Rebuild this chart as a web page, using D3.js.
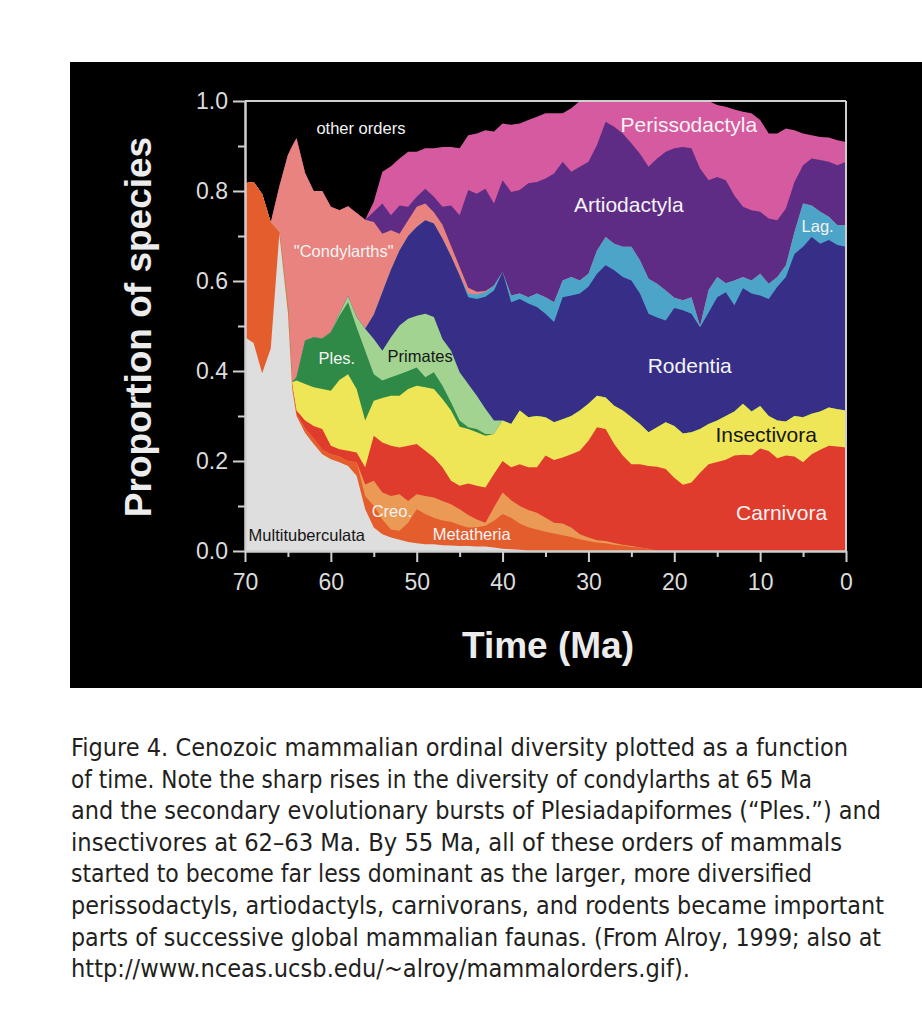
<!DOCTYPE html>
<html>
<head>
<meta charset="utf-8">
<script src="https://cdn.jsdelivr.net/npm/d3@7"></script>
<style>
  body { margin: 0; background: #ffffff; }
  svg { display: block; }
</style>
</head>
<body>
<svg id="chart" width="922" height="1018"></svg>
<script>
// ---------------- DATA ----------------
const times = [70,69,68,67,66,65,64.5,64,63,62,61,60,59,58,57,56,55,54,53,52,51,50,49,48,47,46,45,44,43,42,41,40,39,38,37,36,35,34,33,32,31,30,29,28,27,26,25,24,23,22,21,20,19,18,17,16,15,14,13,12,11,10,9,8,7,6,5,4,3,2,1,0];

const multituberculata = [.475,.462,.395,.45,.705,.53,.36,.30,.262,.238,.215,.204,.197,.189,.167,.093,.052,.037,.03,.025,.02,.017,.015,.015,.013,.012,.011,.011,.01,.01,.008,.005,.004,.003,
  0,0,0,0,0,0,0,0,0,0,0,0,0,0,0,0,0,0,0,0,0,0,0,0,0,0,0,0,0,0,0,0,0,0,0,0,0,0];
const metatheria = [.342,.358,.398,.28,.003,.01,.005,.005,.01,.012,.01,.011,.013,.011,.03,.029,.048,.033,.018,.02,.043,.076,.067,.059,.055,.053,.047,.041,.043,.046,.059,.077,.07,.058,.053,.048,.043,.039,.035,.031,.026,.022,.019,.017,.014,.012,.009,.008,.005,
  0,0,0,0,0,0,0,0,0,0,0,0,0,0,0,0,0,0,0,0,0,0,0];
const creodonta = [0,0,0,0,0,0,0,0,0,0,0,0,0,0,0,
  .026,.056,.06,.074,.081,.048,.033,.04,.045,.043,.039,.035,.028,.017,.007,.03,.048,.039,.039,.038,.037,.031,.024,.026,.021,.011,.008,.005,.005,.004,.002,.002,
  0,0,0,0,0,0,0,0,0,0,0,0,0,0,0,0,0,0,0,0,0,0,0,0,0];
const carnivora = [0,0,0,0,0,.005,.005,.007,.018,.028,.046,.019,.016,.023,.022,.038,.10,.111,.112,.104,.123,.112,.101,.089,.075,.052,.052,.07,.075,.078,.074,.07,.073,.093,.095,.101,.138,.139,.147,.163,.186,.215,.251,.249,.22,.198,.182,.185,.184,.187,.182,.163,.147,.152,.174,.193,.198,.203,.212,.214,.213,.228,.222,.206,.212,.21,.197,.215,.225,.234,.232,.23];
const insectivora = [0,0,0,0,0,.005,.005,.067,.081,.086,.089,.122,.154,.17,.141,.104,.078,.099,.111,.115,.126,.129,.141,.152,.152,.156,.131,.121,.119,.115,.089,.09,.096,.119,.111,.114,.085,.084,.085,.085,.089,.082,.07,.07,.085,.10,.104,.089,.075,.088,.104,.115,.114,.112,.097,.089,.092,.097,.098,.113,.097,.094,.078,.084,.076,.09,.10,.09,.085,.085,.083,.082];
const plesiadapiformes = [0,0,0,0,0,0,0,.007,.097,.111,.112,.13,.143,.16,.137,.155,.059,.039,.041,.048,.04,.041,.022,.037,.029,.018,.014,.004,.007,.004,
  0,0,0,0,0,0,0,0,0,0,0,0,0,0,0,0,0,0,0,0,0,0,0,0,0,0,0,0,0,0,0,0,0,0,0,0,0,0,0,0,0,0];
const primates = [0,0,0,0,0,0,0,0,0,0,0,0,.005,.013,.023,.049,.078,.066,.089,.108,.116,.115,.141,.123,.104,.115,.107,.096,.074,.056,.03,
  0,0,0,0,0,0,0,0,0,0,0,0,0,0,0,0,0,0,0,0,0,0,0,0,0,0,0,0,0,0,0,0,0,0,0,0,0,0,0,0,0];
const rodentia = [0,0,0,0,0,0,0,0,0,0,0,0,0,0,0,0,.054,.13,.15,.167,.184,.197,.208,.208,.223,.21,.215,.193,.215,.249,.289,.33,.271,.248,.253,.242,.23,.223,.271,.268,.26,.26,.271,.294,.301,.297,.304,.29,.263,.244,.226,.262,.274,.263,.226,.248,.274,.275,.236,.257,.262,.246,.26,.297,.321,.36,.379,.393,.373,.372,.365,.364];
const lagomorpha = [0,0,0,0,0,0,0,0,0,0,0,0,0,0,0,0,0,0,0,0,0,0,0,0,0,0,0,.008,.01,.01,.011,0,.015,.012,.014,.03,.037,.044,.037,.041,.029,.029,.052,.063,.059,.067,.075,.074,.078,.075,.067,.023,.022,.037,.003,.05,.045,.02,.055,.025,.029,.048,.034,.022,.026,.049,.096,.07,.071,.052,.044,.048];
const condylarthra = [0,0,0,0,.102,.33,.525,.531,.372,.325,.328,.279,.229,.20,.231,.242,.206,.13,.088,.037,.035,.045,.037,.025,.031,.023,.019,.013,.006,.003,
  0,0,0,0,0,0,0,0,0,0,0,0,0,0,0,0,0,0,0,0,0,0,0,0,0,0,0,0,0,0,0,0,0,0,0,0,0,0,0,0,0,0];
const artiodactyla = [0,0,0,0,0,0,0,0,0,0,0,0,0,0,0,0,.023,.067,.033,.063,.03,.022,.033,.034,.04,.09,.115,.217,.218,.227,.182,.204,.23,.23,.253,.248,.264,.286,.264,.234,.253,.249,.234,.256,.26,.252,.23,.237,.249,.278,.308,.332,.341,.331,.35,.244,.222,.229,.189,.156,.156,.138,.145,.126,.126,.111,.085,.104,.115,.122,.133,.141];
const perissodactyla = [0,0,0,0,0,0,0,0,0,0,0,0,0,0,0,0,.022,.071,.109,.104,.122,.10,.09,.108,.133,.13,.149,.122,.134,.13,.16,.126,.149,.148,.141,.145,.145,.134,.108,.141,.146,.135,.098,.046,.057,.072,.094,.117,.146,.128,.113,.105,.102,.105,.15,.176,.16,.163,.191,.211,.216,.204,.189,.193,.178,.115,.071,.052,.051,.054,.056,.044];

const seriesNames = ["Multituberculata","Metatheria","Creodonta","Carnivora","Insectivora","Plesiadapiformes","Primates","Rodentia","Lagomorpha","Condylarthra","Artiodactyla","Perissodactyla"];
const seriesValues = [multituberculata, metatheria, creodonta, carnivora, insectivora, plesiadapiformes, primates, rodentia, lagomorpha, condylarthra, artiodactyla, perissodactyla];
const seriesColors = ["#dedede","#e45e2d","#ea9a55","#e03c2e","#eee657","#2f8a48","#a2d391","#372f87","#4ca5c9","#e8837f","#5e2c85","#d65a9f"];

const yTicks = [0, 0.2, 0.4, 0.6, 0.8, 1.0];
const yMinorTicks = [0.1, 0.3, 0.5, 0.7, 0.9];
const xTicks = [70, 60, 50, 40, 30, 20, 10, 0];
const xMinorTicks = [65, 55, 45, 35, 25, 15, 5];

// in-plot labels (text, time, proportion, style)
const labelTexts  = ["other orders", "\"Condylarths\"", "Ples.", "Primates", "Perissodactyla", "Artiodactyla", "Lag.", "Rodentia", "Insectivora", "Carnivora", "Creo.", "Metatheria", "Multituberculata"];
const labelTimes  = [56.5, 58.5, 59.3, 49.6, 18.3, 25.3, 3.3, 18.2, 9.3, 7.5, 52.9, 43.6, 62.8];
const labelProps  = [0.927, 0.653, 0.416, 0.42, 0.931, 0.753, 0.709, 0.396, 0.242, 0.069, 0.076, 0.024, 0.022];
const labelDark   = [false, false, false, true, false, false, false, false, true, false, false, false, true];
const labelBig    = [false, false, false, false, true, true, false, true, true, true, false, false, false];

const captionLines = [
  "Figure 4. Cenozoic mammalian ordinal diversity plotted as a function",
  "of time. Note the sharp rises in the diversity of condylarths at 65 Ma",
  "and the secondary evolutionary bursts of Plesiadapiformes (\u201cPles.\u201d) and",
  "insectivores at 62\u201363 Ma. By 55 Ma, all of these orders of mammals",
  "started to become far less dominant as the larger, more diversified",
  "perissodactyls, artiodactyls, carnivorans, and rodents became important",
  "parts of successive global mammalian faunas. (From Alroy, 1999; also at",
  "http://www.nceas.ucsb.edu/~alroy/mammalorders.gif)."
];
const captionLineEnds = [848, 812, 881, 842, 812, 884, 881, 690];

// ---------------- DRAW ----------------
const svg = d3.select("#chart");
const FONT = "'Liberation Sans', Arial, Helvetica, sans-serif";

svg.append("rect").attr("x", 70).attr("y", 62).attr("width", 852).attr("height", 626).attr("fill", "#000");

const x = d3.scaleLinear().domain([70, 0]).range([245, 846]);
const y = d3.scaleLinear().domain([0, 1]).range([551, 101]);

const rows = times.map((t, i) => {
  const r = { t: t };
  seriesNames.forEach((n, k) => { r[n] = seriesValues[k][i]; });
  return r;
});
const layers = d3.stack().keys(seriesNames)(rows);

// draw each layer from 0 up to its cumulative top, top layer first -> no seams
const areaFill = d3.area()
  .x(d => x(d.data.t))
  .y0(() => y(0))
  .y1(d => y(d[1]));

svg.append("g")
  .selectAll("path")
  .data(layers.slice().reverse())
  .join("path")
  .attr("d", areaFill)
  .attr("fill", d => seriesColors[d.index]);

// frame (top and right)
const axisColor = "#cfcfcf";
svg.append("line").attr("x1", x(70)).attr("x2", x(0)).attr("y1", y(1)).attr("y2", y(1))
  .attr("stroke", axisColor).attr("stroke-width", 2);
svg.append("line").attr("x1", x(0)).attr("x2", x(0)).attr("y1", y(1)).attr("y2", y(0))
  .attr("stroke", axisColor).attr("stroke-width", 2);

// axes
function styleAxis(g) {
  g.select(".domain").attr("stroke", axisColor).attr("stroke-width", 2);
  g.selectAll(".tick line").attr("stroke", axisColor).attr("stroke-width", 2);
  g.selectAll(".tick text").attr("fill", "#dcdcdc").style("font-family", FONT).style("font-size", "23px");
}

const yAxisMinor = svg.append("g").attr("transform", `translate(${x(70)},0)`)
  .call(d3.axisLeft(y).tickValues(yMinorTicks).tickSize(7).tickSizeOuter(0).tickFormat(""));
styleAxis(yAxisMinor);
const yAxis = svg.append("g").attr("transform", `translate(${x(70)},0)`)
  .call(d3.axisLeft(y).tickValues(yTicks).tickSize(12).tickSizeOuter(0).tickPadding(5).tickFormat(d3.format(".1f")));
styleAxis(yAxis);

const xAxisMinor = svg.append("g").attr("transform", `translate(0,${y(0)})`)
  .call(d3.axisBottom(x).tickValues(xMinorTicks).tickSize(6).tickSizeOuter(0).tickFormat(""));
styleAxis(xAxisMinor);
const xAxis = svg.append("g").attr("transform", `translate(0,${y(0)})`)
  .call(d3.axisBottom(x).tickValues(xTicks).tickSize(11).tickSizeOuter(0).tickPadding(12).tickFormat(d3.format("d")));
styleAxis(xAxis);

// axis titles
svg.append("text")
  .attr("transform", "translate(151,327) rotate(-90)")
  .attr("text-anchor", "middle")
  .attr("fill", "#ececec")
  .style("font-family", FONT).style("font-weight", "bold").style("font-size", "37px")
  .text("Proportion of species");
svg.append("text")
  .attr("x", 548).attr("y", 658)
  .attr("text-anchor", "middle")
  .attr("fill", "#ececec")
  .style("font-family", FONT).style("font-weight", "bold").style("font-size", "37px")
  .text("Time (Ma)");

// in-plot labels
svg.append("g").selectAll("text")
  .data(labelTexts)
  .join("text")
  .attr("x", (d, i) => x(labelTimes[i]))
  .attr("y", (d, i) => y(labelProps[i]))
  .attr("text-anchor", "middle")
  .attr("fill", (d, i) => labelDark[i] ? "#161616" : "#f3f3f3")
  .style("font-family", FONT)
  .style("font-size", (d, i) => labelBig[i] ? "21px" : "16.5px")
  .text(d => d);

// caption
const capStartX = 71, capFirstBaseline = 756, capLineGap = 31.6;
svg.append("g").selectAll("text")
  .data(captionLines)
  .join("text")
  .attr("x", capStartX)
  .attr("y", (d, i) => capFirstBaseline + i * capLineGap)
  .attr("textLength", (d, i) => captionLineEnds[i] - capStartX)
  .attr("lengthAdjust", "spacingAndGlyphs")
  .attr("fill", "#231f20")
  .style("font-family", "'Liberation Sans Narrow', 'DejaVu Sans Condensed', 'Liberation Sans', sans-serif")
  .style("font-size", "25px")
  .text(d => d);
</script>
</body>
</html>
